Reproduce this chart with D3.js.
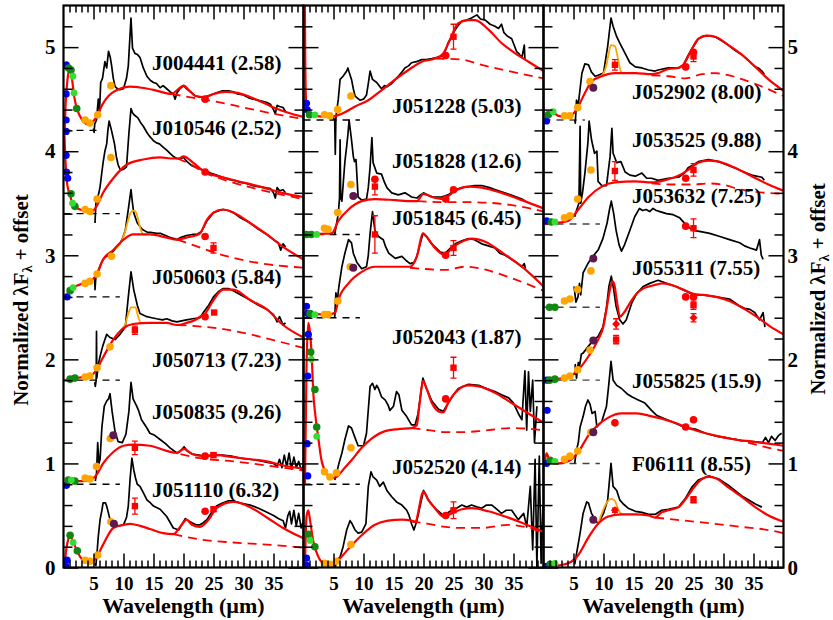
<!DOCTYPE html>
<html><head><meta charset="utf-8">
<script src="https://cdn.jsdelivr.net/npm/d3@7"></script>
<style>
body{margin:0;background:#fff}
svg{display:block}
text{font-family:"Liberation Serif","Times New Roman",serif;font-weight:bold;fill:#000}
</style>
</head><body>
<svg id="c" width="833" height="620"></svg>
<script>
// ---------------- DATA ----------------
const xTicks = [5,10,15,20,25,30,35];
const yTicks = [0,1,2,3,4,5];
const xLabel = "Wavelength (\u00b5m)";

const objNames = ["J004441 (2.58)","J010546 (2.52)","J050603 (5.84)","J050713 (7.23)","J050835 (9.26)","J051110 (6.32)",
  "J051228 (5.03)","J051828 (12.6)","J051845 (6.45)","J052043 (1.87)","J052520 (4.14)",
  "J052902 (8.00)","J053525 (9.88)","J053632 (7.25)","J055311 (7.55)","J055825 (15.9)","F06111 (8.55)"];
const objPanels  = [0,0,0,0,0,0, 1,1,1,1,1, 2,2,2,2,2,2];
const objOffsets = [4.2,3.4,2.6,1.8,0.8,0, 4.3,3.2,2.4,0.8,0, 4.3,3.3,2.5,1.8,1.0,0];
const labelLevels = [4.85,4.23,2.79,2.0,1.5,0.75, 4.44,3.91,3.36,2.22,0.97, 4.57,4.11,3.57,2.88,1.80,1.0];
const baseEnds = [6.1,9.4,9.4,9.4,9.4,null, 9.4,9.4,9.4,9.4,null, 6.9,9.4,9.4,9.4,9.4,null];

// black IRS spectra
const spectra = [
 [[5.0,4.22],[5.1,4.18],[5.2,4.26],[5.5,4.3],[5.8,4.5],[6.0,4.38],[6.2,4.66],[6.5,4.7],[6.9,4.86],[7.2,4.8],[7.5,4.96],[7.8,4.9],[8.0,4.83],[8.3,4.7],[8.6,4.62],[9.0,4.6],[9.4,4.59],[10.0,4.6],[10.5,4.7],[10.8,4.82],[11.25,5.28],[11.5,4.99],[11.9,4.94],[12.3,4.93],[12.75,4.9],[13.3,4.8],[13.9,4.72],[14.5,4.68],[15,4.66],[15.5,4.65],[16.1,4.61],[16.6,4.63],[17.2,4.6],[17.8,4.57],[18.3,4.55],[18.6,4.5],[18.9,4.56],[19.4,4.6],[20,4.63],[20.5,4.6],[21.2,4.57],[22,4.53],[22.75,4.52],[23.5,4.52],[24.5,4.54],[25.5,4.56],[26.5,4.58],[27.5,4.58],[28.3,4.57],[29,4.55],[30,4.54],[31,4.51],[31.6,4.5],[32.5,4.49],[33.8,4.47],[34.5,4.45],[35,4.4],[35.3,4.36],[35.6,4.44],[36,4.43],[36.6,4.42],[37,4.38]],
 [[5.25,3.31],[5.4,3.5],[5.6,3.54],[5.9,3.6],[6.1,3.66],[6.4,3.8],[6.6,3.89],[6.9,4.0],[7.2,4.07],[7.4,4.2],[7.6,4.29],[8.0,4.2],[8.5,4.07],[8.8,3.95],[9.1,3.87],[9.4,3.83],[9.7,3.82],[10.1,3.83],[10.5,3.85],[10.9,4.17],[11.25,4.41],[11.5,4.37],[11.75,4.35],[12.4,4.32],[12.9,4.27],[13.3,4.24],[13.9,4.18],[14.4,4.14],[15,4.1],[15.5,4.08],[16,4.07],[16.6,4.04],[17.2,4.01],[17.75,3.98],[18.3,3.95],[18.9,3.93],[19.5,3.93],[20,3.94],[20.6,3.9],[21.4,3.86],[22.3,3.84],[23.3,3.82],[24.5,3.79],[25.5,3.77],[26.5,3.75],[27.5,3.73],[28.5,3.72],[29.5,3.7],[30.5,3.69],[31.5,3.67],[32.5,3.66],[33.5,3.65],[34.5,3.64],[35,3.6],[35.3,3.55],[35.6,3.65],[36,3.62],[36.6,3.63],[37,3.6]],
 [[5.2,2.78],[5.25,2.67],[5.4,2.8],[5.7,2.84],[6.1,2.9],[6.5,2.95],[6.9,2.98],[7.5,3.0],[8.3,3.04],[8.9,3.08],[9.4,3.11],[9.9,3.17],[10.3,3.24],[10.8,3.44],[11.25,3.63],[11.5,3.5],[11.7,3.41],[12.3,3.31],[13.1,3.25],[14,3.22],[14.5,3.22],[15.5,3.21],[16.2,3.21],[17,3.19],[17.8,3.17],[18.4,3.16],[18.9,3.15],[19.5,3.17],[20.5,3.19],[21.5,3.2],[22.2,3.2],[23,3.23],[23.9,3.33],[25,3.41],[26,3.43],[26.6,3.44],[27.5,3.43],[28.3,3.41],[29.5,3.36],[31.1,3.31],[32.5,3.25],[33.9,3.2],[35,3.15],[35.8,3.12],[36.2,3.05],[36.6,3.11],[37,3.08]],
 [[5.2,1.78],[5.3,1.74],[5.45,1.8],[5.5,2.27],[5.55,1.82],[5.8,1.95],[6.1,2.03],[6.5,2.12],[6.9,2.19],[7.2,2.24],[7.75,2.21],[8.6,2.19],[9.4,2.24],[10.3,2.31],[10.8,2.6],[11.25,2.84],[11.7,2.67],[12.3,2.52],[12.75,2.44],[13.9,2.41],[14.7,2.4],[15.5,2.39],[16.5,2.38],[17.2,2.39],[18.1,2.37],[18.9,2.36],[19.7,2.37],[20.5,2.38],[21.5,2.39],[22.75,2.4],[23.3,2.45],[24.2,2.52],[25,2.6],[25.8,2.65],[26.6,2.68],[27.5,2.68],[28.3,2.66],[29.5,2.62],[31.1,2.57],[32.5,2.52],[33.9,2.48],[35,2.43],[35.6,2.36],[36,2.41],[36.6,2.33],[37,2.35]],
 [[5.3,0.83],[5.5,0.9],[5.7,1.2],[5.9,1.0],[6.1,1.04],[6.4,1.35],[6.8,1.55],[7.2,1.6],[7.5,1.62],[7.75,1.67],[8.1,1.5],[8.6,1.3],[9.1,1.21],[9.8,1.2],[10.4,1.28],[10.9,1.5],[11.25,1.78],[11.6,1.62],[12.2,1.55],[12.5,1.51],[13,1.42],[13.8,1.35],[14.4,1.29],[15.2,1.27],[16.1,1.23],[17,1.19],[17.75,1.15],[18.9,1.1],[19.5,1.12],[20.1,1.16],[20.6,1.12],[21.5,1.09],[22.5,1.08],[23.5,1.07],[25,1.08],[26.5,1.08],[28,1.07],[29.5,1.05],[31,1.04],[32.5,1.03],[34,1.01],[35,1.0],[35.6,0.97],[36,1.04],[36.4,0.96],[36.8,1.08],[37.2,0.97],[37.6,1.1],[38,0.95],[38.4,1.06],[38.8,0.96],[39.2,1.02],[39.6,0.94],[40,0.98]],
 [[5.2,0.04],[5.4,0.02],[5.6,0.15],[5.8,0.3],[6.1,0.46],[6.4,0.55],[6.6,0.62],[7.0,0.62],[7.2,0.59],[7.5,0.52],[7.75,0.46],[8.3,0.43],[9.2,0.4],[10,0.41],[10.5,0.48],[10.8,0.59],[11.1,0.85],[11.4,1.05],[11.7,0.94],[12.0,0.86],[12.3,0.8],[12.75,0.78],[13.3,0.72],[13.9,0.65],[14.5,0.62],[15,0.59],[16.1,0.56],[17.2,0.49],[17.8,0.43],[18.3,0.38],[19.2,0.36],[19.8,0.42],[20.3,0.47],[20.8,0.45],[21.4,0.43],[22.1,0.41],[22.75,0.41],[23.3,0.43],[23.9,0.46],[24.7,0.53],[25.5,0.59],[26.5,0.62],[27.5,0.64],[28.3,0.64],[29.5,0.62],[31.1,0.6],[32.5,0.57],[33.9,0.53],[35,0.5],[35.8,0.47],[36.6,0.45],[37.0,0.38],[37.4,0.5],[37.7,0.54],[38.0,0.42],[38.4,0.55],[38.8,0.4],[39.2,0.52],[39.6,0.38],[40,0.45]],
 [[4.9,4.33],[5.2,4.3],[5.3,3.97],[5.4,4.32],[5.5,4.37],[5.8,4.5],[6.1,4.69],[6.6,4.72],[7.2,4.77],[7.4,4.8],[7.6,4.76],[8.0,4.69],[8.3,4.6],[8.6,4.53],[9.4,4.49],[10,4.5],[10.5,4.54],[10.8,4.65],[11.1,4.77],[11.5,4.69],[12.2,4.66],[13,4.6],[13.5,4.63],[13.9,4.62],[14.7,4.65],[15.3,4.69],[15.8,4.72],[16.4,4.76],[16.9,4.8],[17.5,4.82],[18,4.85],[18.8,4.86],[19.7,4.88],[20.5,4.88],[21.4,4.89],[22.2,4.9],[23,4.91],[23.6,4.96],[24.1,5.04],[24.7,5.1],[25.3,5.17],[25.8,5.21],[26.4,5.25],[27.2,5.26],[28,5.28],[28.9,5.31],[29.5,5.27],[30.3,5.26],[31.1,5.22],[31.9,5.2],[32.5,5.18],[33,5.22],[33.4,5.14],[33.9,5.11],[34.7,5.08],[35.1,5.02],[35.5,4.96],[36,4.93],[36.4,4.9],[36.8,5.02],[36.9,4.88]],
 [[5.2,3.2],[5.5,3.3],[5.8,3.4],[6.0,3.55],[6.1,4.11],[6.2,3.55],[6.4,3.52],[6.7,3.75],[6.9,3.9],[7.2,4.05],[7.4,4.16],[7.6,4.3],[8.0,4.11],[8.3,3.95],[8.5,3.9],[8.75,3.92],[9.1,3.56],[9.7,3.53],[10.5,3.54],[10.8,3.65],[11.1,3.85],[11.4,4.13],[11.6,3.89],[12.2,3.79],[13,3.78],[13.5,3.7],[13.9,3.65],[14.7,3.6],[15.8,3.58],[16.9,3.6],[17.5,3.58],[18,3.56],[18.9,3.55],[19.5,3.58],[20,3.6],[20.7,3.58],[21.5,3.56],[22.3,3.56],[23,3.56],[24.1,3.58],[25.3,3.63],[26.4,3.65],[27.5,3.66],[28.5,3.67],[29.7,3.67],[31,3.65],[32,3.63],[33,3.61],[34.5,3.58],[35.5,3.56],[36.4,3.54],[37,3.52]],
 [[5.2,2.4],[5.4,2.64],[5.6,2.55],[5.9,2.7],[6.4,2.89],[6.9,3.02],[7.5,3.15],[8.0,3.12],[8.3,3.02],[8.9,2.93],[9.7,2.87],[10.5,2.89],[10.8,3.0],[11.1,3.21],[11.5,3.42],[11.9,3.24],[12.5,3.18],[13.3,3.15],[13.7,3.08],[14.2,3.02],[15.3,2.97],[16.4,2.99],[17.1,2.95],[17.75,2.92],[18.4,2.93],[18.9,2.99],[19.4,3.1],[19.9,3.21],[20.5,3.18],[21.2,3.12],[21.9,3.08],[22.8,3.03],[23.6,3.02],[24.5,3.07],[25.3,3.11],[26.4,3.14],[27.5,3.16],[28.5,3.15],[29.7,3.11],[30.8,3.09],[31.9,3.07],[32.7,3.02],[33.6,3.0],[34.7,2.96],[35.5,2.93],[36.4,2.89],[36.8,2.92],[37,2.87]],
 [[5.2,0.84],[5.5,0.9],[5.9,1.0],[6.4,1.1],[6.9,1.23],[7.5,1.36],[8.0,1.34],[8.5,1.26],[9.1,1.17],[10,1.17],[10.5,1.29],[11.1,1.74],[11.5,1.77],[11.9,1.71],[12.2,1.75],[12.5,1.72],[13,1.64],[13.6,1.61],[14.1,1.56],[14.4,1.51],[15,1.55],[15.5,1.69],[15.9,1.66],[16.4,1.51],[17.2,1.45],[18,1.37],[18.6,1.37],[19.1,1.48],[19.9,1.82],[20.5,1.72],[21.4,1.6],[22.5,1.52],[23.3,1.5],[24.1,1.58],[25,1.66],[25.8,1.72],[27.5,1.76],[29.2,1.75],[30.5,1.72],[31.9,1.69],[33,1.66],[34.2,1.63],[35,1.58],[35.8,1.48],[36.4,1.42],[36.9,1.89],[37.2,1.32],[37.5,1.88],[37.8,1.5],[38.2,1.8],[38.5,1.2],[38.9,1.55]],
 [[5.2,0.01],[5.3,0.0],[5.5,0.07],[6.1,0.1],[6.6,0.2],[7.2,0.36],[7.75,0.45],[8.1,0.42],[8.6,0.36],[9.1,0.33],[9.7,0.34],[10.4,0.42],[10.8,0.78],[11.25,0.92],[11.6,0.87],[12.2,0.84],[12.7,0.78],[13.3,0.82],[13.9,0.74],[14.7,0.68],[15.5,0.63],[16.4,0.6],[17.2,0.55],[17.6,0.5],[18,0.42],[18.4,0.36],[18.9,0.45],[20,0.74],[20.8,0.65],[21.9,0.57],[23.3,0.5],[24.7,0.55],[25.5,0.57],[26.4,0.6],[27.2,0.58],[28,0.6],[29,0.58],[29.7,0.57],[30.5,0.6],[31.4,0.6],[32.2,0.56],[33,0.52],[33.8,0.55],[34.7,0.55],[35.3,0.5],[35.8,0.46],[36.7,0.52],[37.2,0.39],[37.8,0.78],[38.2,0.17],[38.6,1.04],[38.9,0.01],[39.3,1.07],[39.6,0.04],[39.9,0.6]],
 [[5.2,4.3],[5.3,4.27],[5.5,4.49],[5.8,4.45],[6.4,4.75],[6.9,4.84],[7.5,4.83],[8.0,4.76],[8.6,4.72],[9.1,4.73],[10,4.75],[10.7,5.01],[11.25,5.28],[11.6,5.2],[12.2,5.1],[12.7,5.04],[13.6,4.94],[14.4,4.85],[15.3,4.81],[16.4,4.8],[17.5,4.78],[18.6,4.77],[19.1,4.78],[20.8,4.8],[22.5,4.8],[23.3,4.83],[24.1,4.92],[24.7,4.98],[25.8,5.08],[26.5,5.1],[27.2,5.11],[28.6,5.1],[29.7,5.06],[30.8,5.02],[31.9,4.97],[33,4.93],[34,4.88],[35.3,4.81],[35.8,4.8],[36.4,4.77],[36.8,4.74]],
 [[5.2,3.37],[5.5,3.43],[5.9,3.5],[6.1,4.24],[6.2,3.5],[6.5,3.6],[6.9,3.79],[7.4,4.08],[7.6,4.29],[8.0,4.11],[8.5,3.98],[8.9,4.0],[9.1,3.71],[9.7,3.67],[10.5,3.67],[11.1,3.95],[11.4,4.22],[11.6,3.98],[12.2,3.89],[12.9,3.9],[13.6,3.8],[14.4,3.77],[15.3,3.76],[16.4,3.79],[17.2,3.74],[18,3.74],[19.1,3.72],[20.8,3.74],[22.5,3.75],[23.5,3.79],[24.1,3.84],[25,3.87],[25.8,3.9],[27.5,3.92],[29.2,3.9],[30.5,3.87],[31.9,3.84],[33,3.81],[34.7,3.77],[35.5,3.76],[36.4,3.75],[36.8,3.72]],
 [[5.1,2.7],[5.4,2.55],[5.75,2.6],[6.0,2.73],[6.2,2.62],[6.6,2.83],[7.4,2.92],[8.25,2.99],[9.1,3.05],[9.9,3.16],[10.6,3.31],[11.0,3.44],[11.3,3.52],[11.7,3.4],[12.1,3.24],[12.6,3.1],[13.0,3.04],[13.5,3.1],[14.4,3.24],[15.2,3.37],[16.0,3.45],[16.5,3.43],[17.1,3.44],[17.7,3.42],[18.25,3.45],[18.8,3.43],[19.4,3.42],[20.5,3.4],[21.6,3.39],[22.7,3.36],[23.8,3.29],[24.9,3.24],[26,3.23],[27.7,3.21],[29.4,3.18],[31,3.15],[32.7,3.12],[33.5,3.09],[34.4,3.07],[35.5,3.05],[36,3.15],[36.3,3.0],[36.6,2.96]],
 [[5.2,1.85],[5.3,1.95],[5.5,1.82],[5.8,1.97],[6.0,1.93],[6.3,2.05],[6.6,2.06],[7.4,2.12],[8.25,2.18],[9.1,2.22],[9.9,2.31],[10.5,2.5],[10.9,2.7],[11.3,2.8],[11.7,2.67],[12.1,2.51],[12.7,2.38],[13.25,2.34],[13.8,2.38],[14.7,2.54],[15.5,2.63],[16.6,2.7],[17.7,2.73],[19.1,2.76],[20.5,2.73],[22.1,2.7],[23.25,2.67],[25,2.62],[26.6,2.62],[28.8,2.6],[31,2.58],[32.5,2.52],[33.5,2.49],[34.4,2.48],[35.2,2.45],[36,2.38],[36.6,2.45],[36.9,2.31]],
 [[5.2,1.0],[5.5,1.13],[5.8,1.2],[6.1,1.35],[6.6,1.45],[7.0,1.55],[7.4,1.61],[7.75,1.57],[8.1,1.48],[8.6,1.5],[8.9,1.35],[9.7,1.4],[10.5,1.55],[10.9,1.77],[11.25,1.98],[11.6,1.8],[12.2,1.75],[13,1.72],[13.9,1.67],[14.7,1.64],[15.8,1.61],[16.9,1.58],[18,1.51],[18.9,1.46],[19.7,1.44],[21.4,1.4],[23,1.36],[24.2,1.34],[25.3,1.33],[27,1.29],[29,1.26],[31,1.24],[33,1.22],[35,1.21],[36.5,1.2],[37,1.25],[37.5,1.2],[38,1.26],[38.6,1.22],[39.2,1.27],[39.7,1.29]],
 [[5.2,0.03],[5.5,0.13],[6.1,0.33],[6.6,0.52],[7.2,0.63],[7.5,0.62],[8.0,0.52],[8.6,0.46],[9.1,0.42],[10,0.52],[10.7,0.65],[11.25,1.0],[11.6,0.78],[12.2,0.74],[12.7,0.65],[13.3,0.61],[14.1,0.57],[15.3,0.54],[16.4,0.53],[17.5,0.51],[18.6,0.51],[19.7,0.55],[20.8,0.56],[22.5,0.58],[23.6,0.66],[24.7,0.77],[25.8,0.84],[27.5,0.88],[29.2,0.85],[30.8,0.79],[33,0.69],[35.3,0.61],[36.4,0.58]]
];

// red solid SED models
const models = [
 [[0.2,4.2],[0.35,4.45],[0.6,4.65],[0.9,4.77],[1.1,4.78],[1.4,4.7],[1.8,4.52],[2.3,4.4],[3,4.31],[4,4.26],[4.6,4.27],[5.5,4.33],[6.5,4.45],[7.5,4.53],[9,4.59],[11,4.62],[13,4.61],[15,4.59],[18,4.55],[19,4.59],[20,4.63],[21,4.58],[22,4.53],[23.5,4.52],[25,4.55],[27,4.57],[29,4.56],[32,4.5],[35,4.42],[38,4.36],[40,4.33]],
 [[0.1,4.25],[0.25,4.01],[0.6,3.69],[1.1,3.57],[1.9,3.47],[3.3,3.43],[4.7,3.42],[5.5,3.47],[6.6,3.6],[8.3,3.74],[10.5,3.87],[13.3,3.92],[16.1,3.94],[18.3,3.93],[19.2,3.93],[20,3.95],[21.6,3.89],[23.3,3.81],[27.2,3.74],[32.75,3.66],[37.2,3.59],[40,3.56]],
 [[0.3,2.6],[0.8,2.63],[1.3,2.67],[2.75,2.72],[4.4,2.75],[5.5,2.81],[6.6,2.96],[8.3,3.05],[10,3.15],[11.6,3.2],[14.4,3.2],[17.2,3.17],[18.9,3.15],[20.5,3.17],[22,3.19],[22.75,3.21],[23.9,3.34],[25,3.41],[26.6,3.44],[28.3,3.41],[31.1,3.31],[33.9,3.2],[36.6,3.08],[40,2.96]],
 [[0.3,1.8],[1.9,1.82],[4.4,1.84],[5.5,1.9],[6.6,2.02],[8.3,2.19],[10,2.3],[11.6,2.34],[14.4,2.35],[17.2,2.35],[18.9,2.33],[20.5,2.35],[22,2.38],[22.75,2.41],[23.6,2.44],[25,2.57],[26.6,2.67],[28.3,2.67],[31.1,2.57],[33.9,2.48],[36.6,2.33],[40,2.21]],
 [[0.3,0.81],[1.5,0.83],[3,0.83],[4.4,0.84],[5.5,0.89],[6.6,1.0],[8.3,1.11],[10,1.17],[11.6,1.18],[14.4,1.17],[17.2,1.12],[18.9,1.1],[20.1,1.14],[21.4,1.09],[23.3,1.07],[25.5,1.08],[28.3,1.06],[31.1,1.04],[33.9,1.02],[36.6,0.98],[40,0.95]],
 [[0.15,0],[0.5,0.19],[0.8,0.27],[1.1,0.3],[1.6,0.25],[2.4,0.14],[3.6,0.06],[4.7,0.05],[5.5,0.1],[6.6,0.22],[8.3,0.38],[10,0.41],[11.1,0.42],[12.75,0.4],[14.4,0.37],[16.6,0.33],[18.3,0.32],[19.7,0.41],[20.5,0.46],[21.4,0.41],[22.75,0.39],[24.2,0.46],[25.5,0.57],[28.3,0.63],[31.1,0.58],[33.9,0.48],[36.6,0.38],[40,0.28]],
 [[0.22,5.45],[0.3,4.85],[0.45,4.47],[0.9,4.38],[1.9,4.34],[4.2,4.33],[6.4,4.36],[8.6,4.43],[10.8,4.49],[13.1,4.59],[15.3,4.69],[17.5,4.78],[19.7,4.86],[21.9,4.89],[23.3,4.94],[24.4,5.07],[25.8,5.23],[27.5,5.26],[28.6,5.26],[30.8,5.17],[33,5.04],[35.3,4.94],[37.5,4.86],[40,4.77]],
 [[0.2,3.2],[4.7,3.21],[5.8,3.33],[7.5,3.44],[9.7,3.52],[11.9,3.54],[15.3,3.53],[18,3.52],[18.9,3.52],[20,3.59],[21.4,3.56],[23.3,3.54],[25,3.61],[27.5,3.66],[29.7,3.65],[33,3.6],[36.4,3.53],[40,3.45]],
 [[0.2,2.52],[0.6,2.45],[1.5,2.44],[4.1,2.43],[5.3,2.45],[5.8,2.57],[7.5,2.73],[9.7,2.84],[11.9,2.89],[15.3,2.89],[17.75,2.89],[18.9,2.99],[19.9,3.21],[20.5,3.18],[21.9,3.07],[23.6,3.0],[24.7,3.07],[26.4,3.13],[28,3.16],[30.3,3.13],[33,3.03],[36.4,2.89],[40,2.7]],
 [[0.25,0.8],[0.5,1.93],[0.8,2.35],[1.1,2.25],[1.4,2.0],[1.6,1.71],[2.0,1.45],[2.5,1.23],[3.0,1.03],[3.9,0.9],[4.7,0.86],[5.5,0.87],[6.6,0.94],[8,1.03],[9.7,1.15],[11.4,1.24],[13.6,1.31],[15.8,1.33],[18,1.34],[18.9,1.37],[19.3,1.55],[19.9,1.79],[20.5,1.72],[21.4,1.58],[22.5,1.5],[23.3,1.49],[24.1,1.58],[25.8,1.71],[27.5,1.75],[29.2,1.74],[31.9,1.68],[34.7,1.58],[37.5,1.48],[40,1.39]],
 [[0.25,0.02],[0.5,0.49],[0.8,0.55],[1.1,0.45],[1.6,0.26],[2.5,0.1],[3.3,0.04],[4.7,0.02],[5.8,0.07],[7.5,0.18],[9.7,0.31],[11.9,0.41],[14.1,0.45],[16.4,0.46],[18,0.45],[18.6,0.44],[20,0.73],[20.8,0.65],[21.9,0.57],[23.3,0.49],[24.7,0.52],[26.4,0.56],[28,0.57],[30.8,0.54],[33.6,0.49],[36.4,0.43],[40,0.34]],
 [[0.2,4.29],[1.1,4.37],[1.6,4.37],[2.5,4.34],[4.1,4.33],[5.5,4.4],[6.9,4.56],[8,4.67],[9.7,4.72],[11.9,4.75],[15.3,4.75],[18,4.74],[19.1,4.75],[20.8,4.79],[22.5,4.8],[23.3,4.83],[24.7,4.98],[25.8,5.08],[27.2,5.11],[28.6,5.1],[30.8,5.02],[33,4.93],[35.3,4.81],[37.5,4.69],[40,4.58]],
 [[0.2,3.3],[1.9,3.31],[4.1,3.33],[5.8,3.44],[7.5,3.56],[9.7,3.66],[11.9,3.7],[15.3,3.71],[18,3.7],[20.8,3.73],[23,3.78],[24.1,3.82],[25.8,3.89],[27.5,3.91],[29.2,3.9],[31.9,3.84],[34.7,3.76],[37.5,3.68],[40,3.62]],
 null,
 [[0.2,1.8],[4.1,1.83],[5.8,1.9],[7.5,2.03],[9.1,2.19],[10,2.32],[10.5,2.48],[11.0,2.65],[11.5,2.75],[11.8,2.72],[12.2,2.57],[12.75,2.41],[13.3,2.44],[14.4,2.54],[15.5,2.63],[16.6,2.68],[18.25,2.71],[19.9,2.73],[21.6,2.71],[23.25,2.67],[25,2.63],[26.6,2.62],[28.8,2.6],[31,2.56],[33.3,2.49],[35.5,2.41],[37.7,2.32],[40,2.24]],
 [[0.2,1.0],[0.5,1.1],[0.8,1.06],[1.1,1.03],[2.5,1.0],[4.1,1.02],[5.8,1.11],[7.5,1.27],[9.1,1.37],[10.8,1.44],[13,1.48],[15.3,1.48],[17.5,1.46],[19.7,1.43],[21.9,1.39],[24.1,1.34],[26.4,1.3],[29.2,1.26],[31.9,1.23],[34.7,1.21],[37.5,1.19],[40,1.17]],
 [[0.2,0],[2.5,0.02],[4.1,0.04],[5.8,0.12],[7.5,0.29],[9.1,0.42],[10.8,0.49],[13,0.51],[15.3,0.51],[17.5,0.5],[18.6,0.48],[19.7,0.53],[20.8,0.55],[22.5,0.58],[23.6,0.65],[24.7,0.74],[25.8,0.82],[27.5,0.87],[28.6,0.86],[30.8,0.77],[33,0.68],[35.3,0.58],[37.5,0.5],[40,0.44]]
];

// red dashed models (continuum without the long-wavelength feature)
const dashedModels = [
 [[18,4.55],[20,4.53],[23,4.5],[26,4.47],[30,4.42],[35,4.36],[40,4.31]],
 [[19,3.93],[21,3.88],[23.3,3.8],[26,3.74],[30,3.67],[35,3.6],[40,3.54]],
 [[19,3.15],[22,3.09],[25.5,3.02],[31.1,2.94],[40,2.88]],
 [[19,2.33],[22,2.32],[25.5,2.3],[31.1,2.24],[36,2.17],[40,2.11]],
 [[19.5,1.09],[22.75,1.05],[28.3,1.02],[33.9,0.98],[40,0.93]],
 [[18.3,0.32],[22.75,0.27],[28.3,0.24],[33.9,0.22],[40,0.19]],
 [[22,4.89],[26.4,4.88],[29.7,4.83],[34.2,4.77],[40,4.7]],
 [[19,3.52],[23.5,3.51],[27.5,3.51],[32,3.5],[36,3.47],[40,3.42]],
 [[17.75,2.88],[23.6,2.86],[26.9,2.89],[29.7,2.87],[34.2,2.79],[40,2.66]],
 [[18,1.34],[20.8,1.32],[23.6,1.3],[26.4,1.3],[29.2,1.31],[34.7,1.34],[40,1.32]],
 [[18,0.44],[20.8,0.42],[23.6,0.39],[26.4,0.38],[29.7,0.38],[34.2,0.41],[37.5,0.38],[40,0.33]],
 [[18,4.73],[20.8,4.72],[23.6,4.7],[26.4,4.74],[28.6,4.75],[30.8,4.73],[34.2,4.67],[40,4.53]],
 [[18,3.69],[21.9,3.68],[24.7,3.68],[27.5,3.69],[29.7,3.68],[33,3.63],[40,3.59]],
 null, null,
 [[29.2,1.26],[32,1.23],[34.7,1.19],[37.5,1.15],[40,1.12]],
 [[18.6,0.48],[21.9,0.46],[25.3,0.44],[28.6,0.42],[33,0.39],[37.5,0.36],[40,0.33]]
];

// orange models (with the 11 micron feature)
const orangeModels = [
 null,null,
 [[8.3,3.05],[9.3,3.1],[10,3.18],[10.6,3.3],[11.1,3.4],[11.5,3.43],[12,3.42],[12.4,3.35],[12.8,3.26],[13.3,3.2],[14,3.2]],
 [[9.5,2.28],[10.3,2.34],[10.8,2.44],[11.3,2.5],[12,2.5],[12.4,2.42],[12.9,2.35],[13.5,2.35]],
 null,null,null,null,null,null,null,
 [[9.2,4.71],[9.9,4.74],[10.5,4.83],[10.9,4.95],[11.25,5.02],[11.9,5.01],[12.2,4.95],[12.5,4.86],[12.8,4.78],[13.1,4.75]],
 null,null,null,null,
 [[9.1,0.42],[10,0.56],[10.6,0.63],[11.25,0.66],[11.9,0.64],[12.3,0.58],[12.7,0.53],[13.2,0.51]]
];

// photometry
const photBlue = [
 [[0.45,4.83],[0.44,4.55]],
 [[0.44,4.3],[0.44,4.19],[0.44,3.96],[0.5,3.8],[0.7,3.74]],
 [[0.6,2.6]], [], [[0.5,0.79]], [[0.4,0.01],[0.6,0.07]],
 [[0.5,4.46],[0.6,4.4]], [], [[0.5,2.51],[0.7,2.44]],
 [[0.8,2.24],[0.7,1.84],[0.6,1.19],[0.7,0.88]], [[0.5,0.09],[0.5,0.02]],
 [[0.5,4.29]], [[0.5,3.33]], [], [[0.5,1.8]], [[0.5,1.0],[0.6,1.51]], [[0.5,0.01]]
];
const photGreen = [
 [[0.85,4.8],[1.25,4.78],[2.2,4.41]], [[1.25,3.59],[1.9,3.47]], [[1.1,2.66]], [[1.1,1.81],[1.9,1.82]],
 [[0.8,0.84],[1.9,0.83]], [[1.1,0.31],[2.3,0.16]],
 [[1.0,4.35]], [[0.5,3.2],[1.3,3.2]], [[1.1,2.44]], [[1.2,2.07],[1.9,1.71],[2.2,1.35]], [[0.8,0.32],[1.9,0.2]],
 [[0.8,4.35]], [[1.3,3.32]], [[1.0,2.5],[1.9,2.5]], [[1.0,1.8],[1.9,1.81]], [[1.1,1.03]], [[1.1,0.03]]
];
const photLime = [
 [[1.55,4.72],[1.75,4.56]], [[1.5,3.5]], [[1.6,2.69]], [], [[1.3,0.84]], [[1.6,0.24]],
 [[1.9,4.35]], [[2.2,3.2]], [[1.9,2.43]], [[1.3,2.0],[2.2,1.26]], [[1.1,0.26]],
 [[1.6,4.38]], [[1.9,3.32]], [], [], [[1.9,1.02]], [[1.9,0.04]]
];
const photOrange = [
 [[3.6,4.3],[4.4,4.27],[5.7,4.35],[7.9,4.63]],
 [[3.6,3.44],[4.4,3.42],[5.6,3.54],[7.9,3.94]],
 [[3.6,2.73],[4.4,2.75],[5.6,2.82],[8.0,2.99]],
 [[3.6,1.83],[4.4,1.84],[5.6,1.92],[7.75,2.12]],
 [[3.6,0.86],[4.4,0.85],[5.5,0.97],[7.8,1.24]],
 [[3.6,0.07],[4.4,0.06],[5.7,0.12],[7.9,0.44]],
 [[3.5,4.35],[4.4,4.34],[5.7,4.4],[7.9,4.53]],
 [[3.5,3.26],[4.1,3.25],[5.7,3.41],[7.9,3.68]],
 [[3.5,2.43],[4.1,2.43],[5.7,2.56],[7.8,2.89]],
 [[3.5,0.92],[4.4,0.87],[5.5,0.91],[7.9,1.15]],
 [[3.5,0.04],[4.4,0.03],[5.5,0.06],[7.9,0.22]],
 [[3.5,4.34],[4.4,4.34],[5.7,4.42],[7.75,4.67]],
 [[3.5,3.36],[4.4,3.38],[5.7,3.54],[7.9,3.82]],
 [[3.5,2.56],[4.4,2.58],[5.7,2.67],[7.9,2.85]],
 [[3.5,1.82],[4.4,1.84],[5.7,1.9],[7.75,2.09]],
 [[3.5,1.04],[4.4,1.07],[5.7,1.12],[7.9,1.3]],
 []
];
const photPurple = [
 [], [], [], [], [[8.3,1.27]], [[8.4,0.42]],
 [], [[8.3,3.57]], [[8.3,2.88]], [], [],
 [[8.3,4.61]], [], [[8.3,2.97]], [[8.3,2.18]], [[8.3,1.3]], [[8.3,0.46]]
];
// MIPS 24 micron points (filled circles)
const redDots = [
 [[23.6,4.5]], [[23.6,3.8]], [[23.6,3.18]], [[23.6,2.41]], [[23.6,1.07]], [[23.6,0.54]],
 [[23.7,4.92]], [[23.7,3.54],[25,3.63],[11.9,3.73]], [[23.7,3.0]], [[23.7,1.62]], [[23.7,0.5]],
 [[23.7,4.81],[25,4.95]], [[23.7,3.74]], [[23.7,3.28]], [[23.7,2.6],[25,2.6]], [[11.9,1.39],[23.7,1.35],[25,1.42]], []
];
// IRAS 12/25 micron points (squares) with error bars [lambda, value, error]
const redSquares = [
 [], [], [[25,3.07,0.05]], [[25.1,2.45,0],[11.9,2.28,0.04]], [[25,1.08,0.02],[11.9,1.15,0.065]], [[25,0.56,0.02],[11.9,0.59,0.077]],
 [[25,5.1,0.12]], [[11.9,3.66,0.08]], [[25,3.07,0.07],[11.9,3.2,0.18]], [[25,1.92,0.1]], [[25,0.55,0.08]],
 [[25,4.91,0.05],[11.9,4.83,0.05]], [[25,3.82,0.06],[11.9,3.81,0.09]], [[25,3.26,0.09]], [[25,2.52,0.04],[12.1,2.19,0.04]], [], [[25,0.65,0.03]]
];
// diamonds with error bars
const redDiamonds = [
 [],[],[],[],[],[], [],[],[],[],[], [],[],[], [[25,2.4,0.04],[12.1,2.34,0.05]], [], [[11.9,0.55,0.02]]
];

// ---------------- DRAWING ----------------
const svg = d3.select('#c');
const PL = [63.5, 303.5, 543.5], PW = 240, PT = 5.5, PB = 567.5;
const x = d3.scaleLinear().domain([0, 40]).range([0, PW]);
const y = d3.scaleLinear().domain([0, 5.4]).range([PB - PT, 0]);
const PH = PB - PT;
const line = d3.line().x(d => x(d[0])).y(d => y(d[1]));
const smooth = d3.line().curve(d3.curveMonotoneX).x(d => x(d[0])).y(d => y(d[1]));

const defs = svg.append('defs');
defs.append('clipPath').attr('id', 'pclip').append('rect')
  .attr('x', 0).attr('y', 0).attr('width', PW).attr('height', PH);

const xMinor = d3.range(1, 40).filter(v => v % 5 !== 0);
const yMinor = d3.range(1, 27).filter(i => i % 5 !== 0).map(i => i / 5);

const panels = [0, 1, 2].map(p => {
  const g = svg.append('g').attr('transform', `translate(${PL[p]},${PT})`);
  const plot = g.append('g').attr('clip-path', 'url(#pclip)');
  return { g, plot };
});

objNames.forEach((name, i) => {
  const p = objPanels[i];
  const off = objOffsets[i];
  if (baseEnds[i] !== null) {
    panels[p].plot.append('line')
      .attr('x1', x(0)).attr('x2', x(baseEnds[i]))
      .attr('y1', y(off)).attr('y2', y(off))
      .attr('stroke', p === 2 ? '#444' : '#000').attr('stroke-width', 1.4)
      .attr('stroke-dasharray', '7,6');
  }
});
objNames.forEach((name, i) => {
  panels[objPanels[i]].plot.append('path').datum(spectra[i]).attr('d', line)
    .attr('fill', 'none').attr('stroke', '#000').attr('stroke-width', 1.7)
    .attr('stroke-linejoin', 'round');
});
objNames.forEach((name, i) => {
  const plot = panels[objPanels[i]].plot;
  if (orangeModels[i]) plot.append('path').datum(orangeModels[i]).attr('d', smooth)
    .attr('fill', 'none').attr('stroke', '#ffa500').attr('stroke-width', 1.8);
  if (dashedModels[i]) plot.append('path').datum(dashedModels[i]).attr('d', smooth)
    .attr('fill', 'none').attr('stroke', '#ff0000').attr('stroke-width', 1.8)
    .attr('stroke-dasharray', '9,6');
  if (models[i]) plot.append('path').datum(models[i]).attr('d', smooth)
    .attr('fill', 'none').attr('stroke', '#ff0000').attr('stroke-width', 2.2);
});
objNames.forEach((name, i) => {
  const plot = panels[objPanels[i]].plot;
  const dots = (arr, col, r) => arr.forEach(d => plot.append('circle')
    .attr('cx', x(d[0])).attr('cy', y(d[1])).attr('r', r).attr('fill', col));
  dots(photBlue[i], '#0000ff', 3.6);
  dots(photGreen[i], '#118811', 3.8);
  dots(photLime[i], '#33dd33', 3.4);
  dots(photOrange[i], '#ffa500', 3.8);
  dots(photPurple[i], '#5c1a4f', 4.0);
  dots(redDots[i], '#ff0000', 3.8);
  const errbar = d => {
    if (d[2] > 0) {
      plot.append('line').attr('x1', x(d[0])).attr('x2', x(d[0]))
        .attr('y1', y(d[1] - d[2])).attr('y2', y(d[1] + d[2]))
        .attr('stroke', '#ff0000').attr('stroke-width', 1.3);
      [d[1] - d[2], d[1] + d[2]].forEach(v => plot.append('line')
        .attr('x1', x(d[0]) - 3).attr('x2', x(d[0]) + 3)
        .attr('y1', y(v)).attr('y2', y(v))
        .attr('stroke', '#ff0000').attr('stroke-width', 1.3));
    }
  };
  redSquares[i].forEach(d => {
    errbar(d);
    plot.append('rect').attr('x', x(d[0]) - 3.2).attr('y', y(d[1]) - 3.2)
      .attr('width', 6.4).attr('height', 6.4).attr('fill', '#ff0000');
  });
  redDiamonds[i].forEach(d => {
    errbar(d);
    plot.append('path').attr('transform', `translate(${x(d[0])},${y(d[1])})`)
      .attr('d', 'M0,-4L4,0L0,4L-4,0Z').attr('fill', '#ff0000');
  });
  panels[objPanels[i]].g.append('text')
    .attr('x', x(14.75)).attr('y', y(labelLevels[i]))
    .attr('dy', '0.35em').attr('font-size', 21).text(name);
});

panels.forEach(({ g }, p) => {
  const addAxis = (axis, tr, fs) => {
    const a = g.append('g').attr('transform', tr).call(axis);
    a.select('.domain').remove();
    a.selectAll('line').attr('stroke', '#000').attr('stroke-width', 1.5);
    a.selectAll('text').attr('font-size', fs || 19).attr('fill', '#000')
      .style('font-family', '"Liberation Serif","Times New Roman",serif').style('font-weight', 'bold');
    return a;
  };
  addAxis(d3.axisBottom(x).tickValues(xTicks).tickSize(-14).tickPadding(9).tickFormat(d3.format('d')), `translate(0,${PH})`);
  addAxis(d3.axisBottom(x).tickValues(xMinor).tickSize(-7).tickFormat(''), `translate(0,${PH})`);
  addAxis(d3.axisTop(x).tickValues(xTicks).tickSize(-14).tickFormat(''), 'translate(0,0)');
  addAxis(d3.axisTop(x).tickValues(xMinor).tickSize(-7).tickFormat(''), 'translate(0,0)');
  addAxis(d3.axisLeft(y).tickValues(yTicks).tickSize(-15).tickPadding(8).tickFormat(p === 0 ? d3.format('d') : ''), 'translate(0,0)', 21);
  addAxis(d3.axisLeft(y).tickValues(yMinor).tickSize(-9).tickFormat(''), 'translate(0,0)');
  addAxis(d3.axisRight(y).tickValues(yTicks).tickSize(-15).tickPadding(4).tickFormat(p === 2 ? d3.format('d') : ''), `translate(${PW},0)`, 21);
  addAxis(d3.axisRight(y).tickValues(yMinor).tickSize(-9).tickFormat(''), `translate(${PW},0)`);
  g.append('rect').attr('x', 0).attr('y', 0).attr('width', PW).attr('height', PH)
    .attr('fill', 'none').attr('stroke', '#000').attr('stroke-width', 2.2);
  g.append('text').attr('x', PW / 2).attr('y', 613 - PT).attr('text-anchor', 'middle')
    .attr('font-size', 22).text(xLabel);
});

const ylab = (tx, ty) => {
  const t = svg.append('text').attr('transform', `translate(${tx},${ty}) rotate(-90)`)
    .attr('text-anchor', 'middle').attr('font-size', 21);
  t.append('tspan').text('Normalized \u03bbF');
  t.append('tspan').attr('font-size', 14).attr('dy', 4).text('\u03bb');
  t.append('tspan').attr('dy', -4).text(' + offset');
};
ylab(28, 300);
ylab(825, 289);
</script>
</body></html>
